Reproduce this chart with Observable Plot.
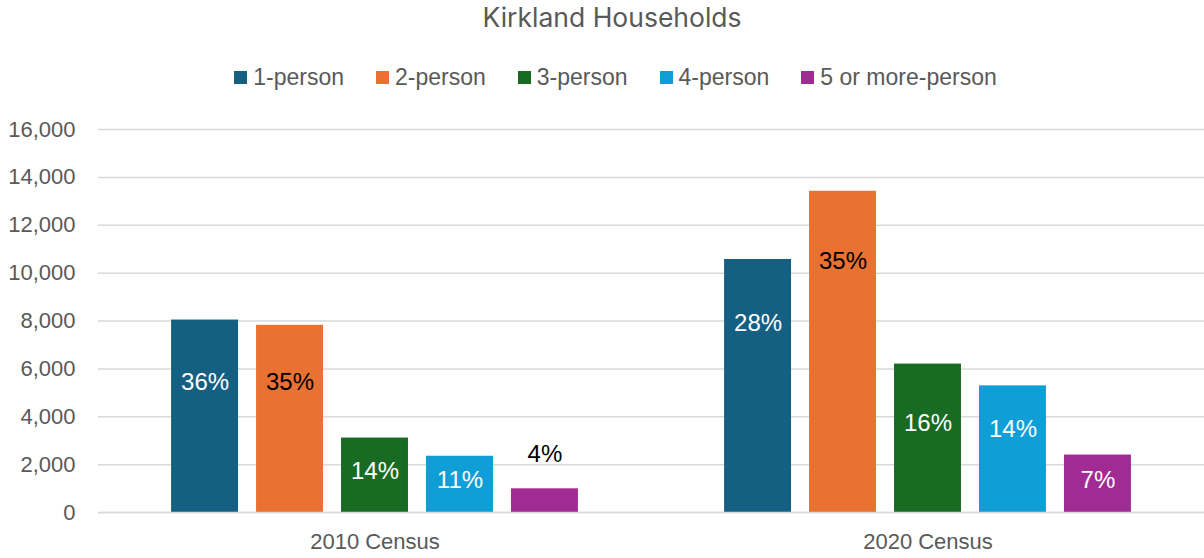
<!DOCTYPE html>
<html>
<head>
<meta charset="utf-8">
<script src="https://cdn.jsdelivr.net/npm/d3@7"></script>
<script src="https://cdn.jsdelivr.net/npm/@observablehq/plot@0.6"></script>
<style>
  html, body { margin: 0; padding: 0; background: #fff; }
  body { width: 1204px; height: 558px; position: relative; overflow: hidden; }
  #title {
    position: absolute; left: 0; top: 0; width: 1204px; height: 34px;
    line-height: 34px; text-align: center; box-sizing: border-box; padding-left: 20px;
    font-family: "Inter", "Liberation Sans", sans-serif; font-size: 26.5px; color: #595959;
  }
  #legend {
    position: absolute; left: 0; top: 62px; width: 1204px; height: 30px;
    box-sizing: border-box; padding-left: 27px;
    display: flex; justify-content: center; align-items: center;
    font-family: "Liberation Sans", Arial, sans-serif; font-size: 23px; color: #595959;
    line-height: 30px;
  }
  .item { display: flex; align-items: center; margin: 0 16px; }
  .sw { width: 13px; height: 13px; margin-right: 6px; }
  #chart { position: absolute; left: 0; top: 100px; }
</style>
</head>
<body>
<div id="title">Kirkland Households</div>
<div id="legend"></div>
<div id="chart"></div>
<script>
const census = ["2010 Census", "2020 Census"];
const categories = ["1-person", "2-person", "3-person", "4-person", "5 or more-person"];
const households2010 = [8040, 7820, 3110, 2350, 990];
const households2020 = [10570, 13420, 6200, 5290, 2400];
const shares2010 = ["36%", "35%", "14%", "11%", "4%"];
const shares2020 = ["28%", "35%", "16%", "14%", "7%"];
const labelAt2010 = [5420, 5420, 1710, 1330, 2420];
const labelAt2020 = [7920, 10480, 3720, 3460, 1350];
const yTicks = [0, 2000, 4000, 6000, 8000, 10000, 12000, 14000, 16000];
const colors = ["#156082", "#E97132", "#196B24", "#0F9ED5", "#A02B93"];

const rows = [];
categories.forEach((c, i) => {
  rows.push({census: census[0], category: c, value: households2010[i], share: shares2010[i], labelAt: labelAt2010[i]});
  rows.push({census: census[1], category: c, value: households2020[i], share: shares2020[i], labelAt: labelAt2020[i]});
});

// legend
const legend = document.getElementById("legend");
categories.forEach((c, i) => {
  const it = document.createElement("div");
  it.className = "item";
  const sw = document.createElement("span");
  sw.className = "sw";
  sw.style.background = colors[i];
  const tx = document.createElement("span");
  tx.textContent = c;
  it.appendChild(sw); it.appendChild(tx);
  legend.appendChild(it);
});

const chart = Plot.plot({
  width: 1204,
  height: 458,
  marginTop: 29,
  marginBottom: 46,
  marginLeft: 98,
  marginRight: 0,
  style: {fontFamily: "'Liberation Sans', Arial, sans-serif", fontSize: "22px", color: "#595959", background: "#fff"},
  fx: {domain: census, padding: 0, label: null},
  x: {domain: categories, paddingInner: 0.212, paddingOuter: 0.86, round: false, axis: null},
  y: {domain: [0, 16000], label: null},
  color: {domain: categories, range: colors},
  marks: [
    Plot.gridY(yTicks, {stroke: "#d9d9d9", strokeOpacity: 1, strokeWidth: 1.5}),
    Plot.axisY(yTicks, {tickSize: 0, tickPadding: 23, tickFormat: d3.format(","), label: null, fontSize: 22, fill: "#595959"}),
    Plot.axisFx({anchor: "bottom", tickSize: 0, tickPadding: 21, label: null, fontSize: 22, fill: "#595959"}),
    Plot.barY(rows, {fx: "census", x: "category", y: "value", fill: "category"}),
    Plot.ruleY([0], {stroke: "#d9d9d9", strokeWidth: 1.5}),
    Plot.text(rows, {
      fx: "census", x: "category", y: "labelAt", text: "share",
      fontSize: 24,
      fill: d => (d.category === "2-person" || d.labelAt > d.value) ? "#000000" : "#ffffff"
    })
  ]
});
document.getElementById("chart").appendChild(chart);
</script>
</body>
</html>
